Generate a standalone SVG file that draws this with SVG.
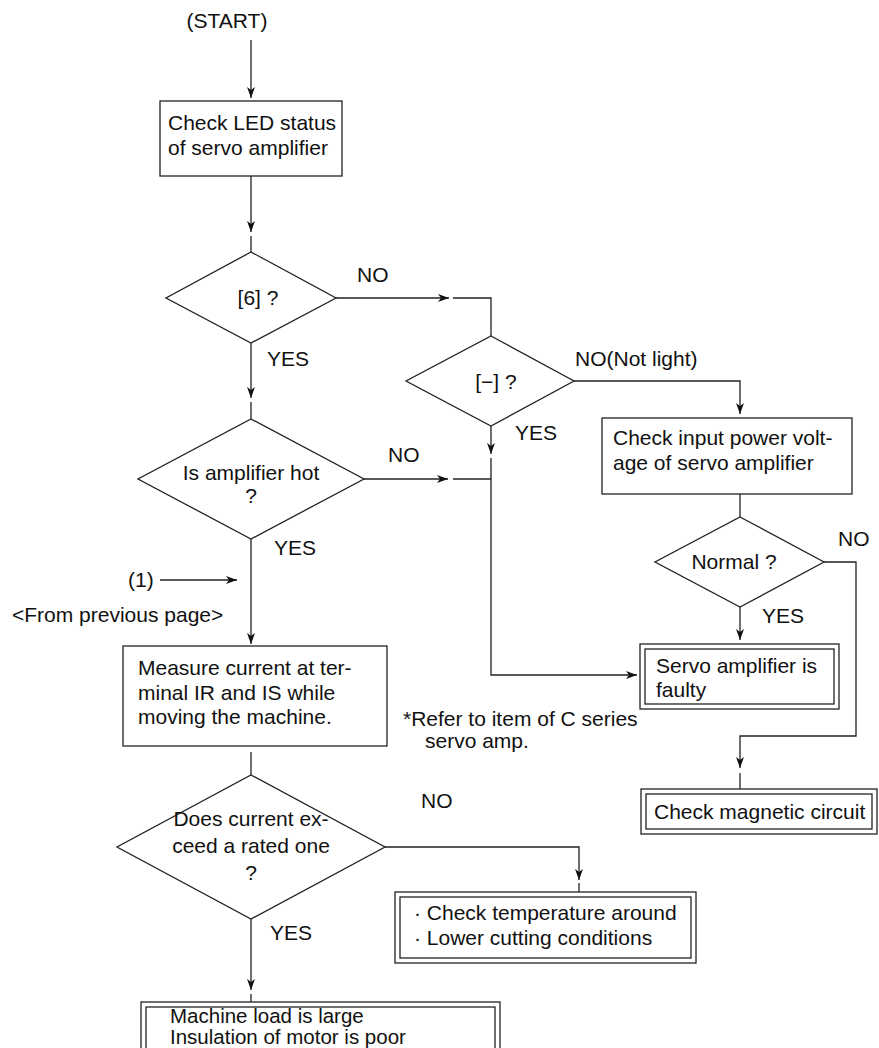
<svg xmlns="http://www.w3.org/2000/svg" width="879" height="1048" viewBox="0 0 879 1048">
<style>
  text { font-family: "Liberation Sans", Arial, sans-serif; font-size: 21px; fill: #111; }
  .c { text-anchor: middle; }
  .box { fill: #fff; stroke: #222; stroke-width: 1.3; }
  .ln { fill: none; stroke: #222; stroke-width: 1.3; }
  .tight { font-size: 20.5px; }
</style>
<defs>
  <marker id="arr" markerUnits="userSpaceOnUse" markerWidth="12" markerHeight="9" refX="11" refY="4" orient="auto">
    <path d="M0,0 L11,4 L0,8 L3,4 z" fill="#111"/>
  </marker>
</defs>
<rect width="879" height="1048" fill="#fff"/>

<g id="connectors">
  <line class="ln" x1="251" y1="40" x2="251" y2="98" marker-end="url(#arr)"/>
  <line class="ln" x1="251" y1="176" x2="251" y2="232" marker-end="url(#arr)"/>
  <line class="ln" x1="251" y1="236" x2="251" y2="252"/>
  <line class="ln" x1="336" y1="298" x2="449" y2="298" marker-end="url(#arr)"/>
  <polyline class="ln" points="453,298 491,298 491,336"/>
  <line class="ln" x1="251" y1="343" x2="251" y2="398" marker-end="url(#arr)"/>
  <line class="ln" x1="251" y1="402" x2="251" y2="419"/>
  <polyline class="ln" points="574,381 740,381 740,414" marker-end="url(#arr)"/>
  <line class="ln" x1="491" y1="426" x2="491" y2="454" marker-end="url(#arr)"/>
  <polyline class="ln" points="491,458 491,675 637,675" marker-end="url(#arr)"/>
  <line class="ln" x1="364" y1="479" x2="448" y2="479" marker-end="url(#arr)"/>
  <line class="ln" x1="453" y1="479" x2="491" y2="479"/>
  <line class="ln" x1="251" y1="539" x2="251" y2="644" marker-end="url(#arr)"/>
  <line class="ln" x1="160" y1="580" x2="237" y2="580" marker-end="url(#arr)"/>
  <line class="ln" x1="251" y1="752" x2="251" y2="775"/>
  <line class="ln" x1="740" y1="494" x2="740" y2="517"/>
  <line class="ln" x1="740" y1="607" x2="740" y2="640" marker-end="url(#arr)"/>
  <polyline class="ln" points="824,562 856,562 856,736 740,736 740,768" marker-end="url(#arr)"/>
  <line class="ln" x1="740" y1="773" x2="740" y2="789"/>
  <polyline class="ln" points="385,847 579,847 579,880" marker-end="url(#arr)"/>
  <line class="ln" x1="579" y1="883" x2="579" y2="892"/>
  <line class="ln" x1="251" y1="919" x2="251" y2="990" marker-end="url(#arr)"/>
  <line class="ln" x1="251" y1="994" x2="251" y2="1002"/>
</g>

<g id="labels">
  <text x="357" y="282">NO</text>
  <text x="267" y="366">YES</text>
  <text x="575" y="366">NO(Not light)</text>
  <text x="515" y="440">YES</text>
  <text x="388" y="462">NO</text>
  <text x="274" y="555">YES</text>
  <text x="128" y="587">(1)</text>
  <text x="12" y="622">&lt;From previous page&gt;</text>
  <text x="838" y="546">NO</text>
  <text x="762" y="623">YES</text>
  <text x="403" y="726">*Refer to item of C series</text>
  <text x="425" y="748">servo amp.</text>
  <text x="421" y="808">NO</text>
  <text x="270" y="940">YES</text>
</g>

<g id="start"><text class="c" x="227" y="28">(START)</text></g>

<g id="check-led">
  <rect class="box" x="160" y="101" width="182" height="75"/>
  <text x="168" y="130">Check LED status</text>
  <text x="168" y="155">of servo amplifier</text>
</g>

<g id="dec-6">
  <polygon class="box" points="251,252 336,298 251,343 166,298"/>
  <text class="c" x="258" y="305">[6] ?</text>
</g>

<g id="dec-minus">
  <polygon class="box" points="491,336 574,381 491,426 406,381"/>
  <text class="c" x="496" y="389">[−] ?</text>
</g>

<g id="check-input">
  <rect class="box" x="602" y="418" width="250" height="76"/>
  <text x="613" y="445">Check input power volt-</text>
  <text x="613" y="470">age of servo amplifier</text>
</g>

<g id="dec-hot">
  <polygon class="box" points="251,419 364,479 251,539 138,479"/>
  <text class="c" x="251" y="480">Is amplifier hot</text>
  <text class="c" x="251" y="503">?</text>
</g>

<g id="dec-normal">
  <polygon class="box" points="740,517 824,562 740,607 655,562"/>
  <text class="c" x="734" y="569">Normal ?</text>
</g>

<g id="servo-faulty">
  <rect class="box" x="640" y="644" width="199" height="65"/>
  <rect class="box" x="645" y="649" width="189" height="55"/>
  <text x="656" y="673">Servo amplifier is</text>
  <text x="656" y="697">faulty</text>
</g>

<g id="measure">
  <rect class="box" x="123" y="646" width="264" height="100"/>
  <text x="138" y="675">Measure current at ter-</text>
  <text x="138" y="700">minal IR and IS while</text>
  <text x="138" y="724">moving the machine.</text>
</g>

<g id="check-magnetic">
  <rect class="box" x="641" y="789" width="236" height="45"/>
  <rect class="box" x="646" y="794" width="226" height="35"/>
  <text x="654" y="819">Check magnetic circuit</text>
</g>

<g id="dec-current">
  <polygon class="box" points="251,775 385,847 251,919 117,847"/>
  <text class="c" x="251" y="826">Does current ex-</text>
  <text class="c" x="251" y="853">ceed a rated one</text>
  <text class="c" x="251" y="880">?</text>
</g>

<g id="check-temp">
  <rect class="box" x="395" y="892" width="301" height="71"/>
  <rect class="box" x="400" y="897" width="291" height="61"/>
  <text x="414" y="920">· Check temperature around</text>
  <text x="414" y="945">· Lower cutting conditions</text>
</g>

<g id="machine-load">
  <rect class="box" x="141" y="1002" width="359" height="60"/>
  <rect class="box" x="146" y="1007" width="349" height="50"/>
  <text class="tight" x="170" y="1023">Machine load is large</text>
  <text class="tight" x="170" y="1044">Insulation of motor is poor</text>
</g>
</svg>
